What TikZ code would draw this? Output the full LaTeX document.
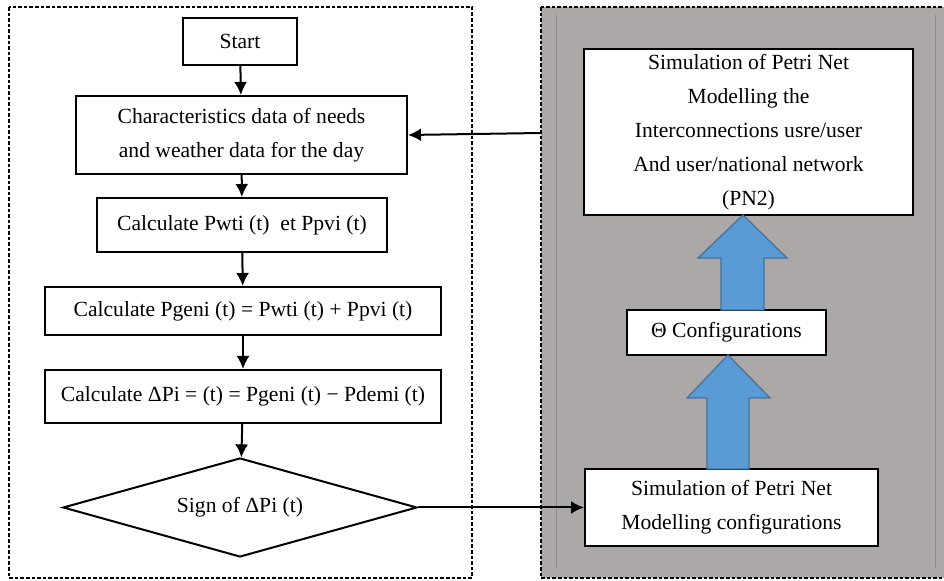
\documentclass[tikz,border=0pt]{standalone}
\usepackage{fontspec}
\setmainfont{Liberation Serif}
\usetikzlibrary{%
  arrows,%
  arrows.meta,% bigger tips
  shapes.geometric,% diamond
  positioning,%
  calc%
}

\definecolor{panelgray}{HTML}{ABA8A7}
\definecolor{panelline}{HTML}{8E8B8A}
\definecolor{arrowblue}{HTML}{5B9BD5}
\definecolor{arrowedge}{HTML}{41719C}

\begin{document}
\begin{tikzpicture}
  [
  x=0.5pt, y=-0.5pt,
  font=\fontsize{10.8}{17}\selectfont, line width=1pt, draw=black, >={Latex[length=6.5pt,width=6.5pt]},
  process/.style={rectangle, draw=black, fill=white, inner sep=0pt, align=center},
  decision/.style={diamond, draw=black, fill=white, inner sep=0pt, aspect=3.55},
  frame/.style={line width=0.6pt, dash pattern=on 1.8pt off 1pt},
  bigarrow/.style={draw=arrowedge, line width=0.6pt, fill=arrowblue}
  ]

\clip (0,0) rectangle (944,581);

% the two frames
\draw[frame] (9,7) rectangle (472,578);
\draw[frame, fill=panelgray] (541,7) rectangle (960,578);
\draw[panelline, line width=0.5pt] (556,15) -- (556,568);
\draw[panelline, line width=0.5pt] (935,15) -- (935,568);

% flowchart on the left
\node[process, minimum width=57pt, minimum height=23.5pt] (start) at (240,41.5) {Start};
\node[process, minimum width=165.5pt, minimum height=39pt] (data) at (241.5,135) {Characteristics data of needs\\and weather data for the day};
\node[process, minimum width=145pt, minimum height=27pt] (pcalc) at (242,225) {Calculate Pwti (t)~~et Ppvi (t)};
\node[process, minimum width=198pt, minimum height=24pt] (pgen) at (243,311) {Calculate Pgeni (t) = Pwti (t) + Ppvi (t)};
\node[process, minimum width=198pt, minimum height=26.5pt] (pdelta) at (243,396.5) {Calculate ΔPi = (t) = Pgeni (t) − Pdemi (t)};
\node[decision, minimum width=177pt, minimum height=49.5pt] (sign) at (240,507.5) {Sign of ΔPi (t)};

\draw[->] (start) -- (data);
\draw[->] (data) -- (pcalc);
\draw[->] (pcalc) -- (pgen);
\draw[->] (pgen) -- (pdelta);
\draw[->] (pdelta) -- (sign);

% Petri net side
\node[process, minimum width=164.5pt, minimum height=83pt] (pn2) at (748.5,132) {Simulation of Petri Net\\Modelling the\\Interconnections usre/user\\And user/national network\\(PN2)};
\node[process, minimum width=99.5pt, minimum height=22.5pt] (theta) at (726.5,332.5) {Θ Configurations};
\node[process, minimum width=146.5pt, minimum height=38.5pt] (simconf) at (731.5,507.5) {Simulation of Petri Net\\Modelling configurations};

\coordinate (panel) at (541,133);
\draw[->] (sign.east) -- (simconf.west);
\draw[->] (panel) -- (data.east);

% block arrows
\draw[bigarrow] (743,215) -- (787,258) -- (764,258) -- (764,310) -- (721,310) -- (721,258) -- (698,258) -- cycle;
\draw[bigarrow] (728,355) -- (770,398) -- (749,398) -- (749,469) -- (707,469) -- (707,398) -- (687,398) -- cycle;
\end{tikzpicture}
\end{document}
